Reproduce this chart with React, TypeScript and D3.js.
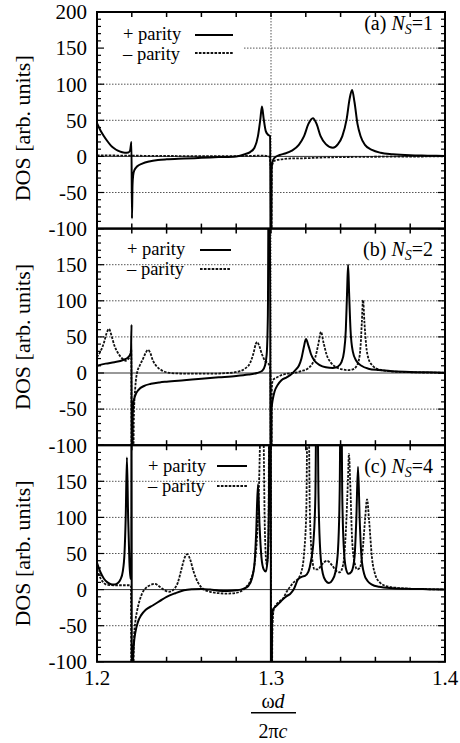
import React from 'react';
import * as d3 from 'd3';

// ---------- data ----------
const xTickValues = [1.2, 1.3, 1.4];
const xTickLabels = ['1.2', '1.3', '1.4'];
const xMinorTicks = [1.2, 1.22, 1.24, 1.26, 1.28, 1.3, 1.32, 1.34, 1.36, 1.38, 1.4];
const yTickValuesTop = [200, 150, 100, 50, 0, -50, -100];
const yTickValues = [150, 100, 50, 0, -50, -100];
const yGridValues = [150, 100, 50, -50];
const panelLetters = ['(a)', '(b)', '(c)'];
const panelNs = ['1', '2', '4'];
const legendLabels = ['+ parity', '\u2013 parity'];
const yAxisTitle = 'DOS [arb. units]';

type P = [number, number];

const aPlus: P[] = [
  [1.2, 46], [1.202, 36], [1.204, 28], [1.206, 21], [1.208, 15], [1.21, 11], [1.212, 8], [1.214, 6],
  [1.216, 5], [1.218, 5.5], [1.219, 8], [1.2198, 20], [1.2201, -86], [1.2204, -40], [1.2208, -26],
  [1.2215, -19], [1.223, -14], [1.226, -10], [1.23, -7], [1.235, -5], [1.24, -4], [1.25, -3], [1.26, -2],
  [1.27, -1], [1.28, 0], [1.285, 3], [1.288, 6], [1.2905, 12], [1.2925, 28], [1.2938, 50], [1.2948, 69],
  [1.2958, 52], [1.297, 35], [1.2983, 30], [1.2995, 28], [1.29995, -300],
  [1.30005, -300], [1.3003, -20], [1.3008, -8], [1.302, -2], [1.305, 2], [1.308, 4], [1.312, 8],
  [1.316, 16], [1.319, 28], [1.3215, 45], [1.3241, 53], [1.3262, 45], [1.3285, 28], [1.3315, 17],
  [1.3356, 12], [1.3385, 17], [1.341, 28], [1.3435, 52], [1.3452, 80], [1.3466, 92], [1.348, 75],
  [1.3497, 45], [1.3515, 28], [1.354, 16], [1.358, 9], [1.363, 5], [1.37, 3], [1.38, 1.5], [1.39, 1], [1.4, 0.5],
];
const aMinus: P[] = [
  [1.2, 1.5], [1.22, 1], [1.25, 0.5], [1.28, 0.5], [1.295, 1], [1.299, 0], [1.2999, -20], [1.29998, -300],
  [1.30002, -300], [1.3005, -14], [1.302, -6], [1.306, -4], [1.31, -3], [1.32, -2.5], [1.33, -1.5],
  [1.34, -1], [1.36, -0.5], [1.4, 0],
];

const bPlus: P[] = [
  [1.2, 10], [1.205, 13], [1.21, 15], [1.215, 18], [1.218, 22], [1.2195, 28], [1.21985, 67], [1.22, -300],
  [1.2202, -300], [1.2205, -60], [1.221, -40], [1.222, -31], [1.224, -23], [1.227, -18], [1.231, -15],
  [1.236, -13], [1.24, -12], [1.25, -10], [1.26, -8], [1.27, -6], [1.28, -4], [1.287, -2], [1.292, 0],
  [1.295, 3], [1.2965, 10], [1.2975, 25], [1.2982, 80], [1.2987, 300], [1.2993, 300], [1.29995, -300],
  [1.30005, -300], [1.3003, -50], [1.301, -37], [1.302, -26], [1.304, -16], [1.306, -10], [1.309, -6],
  [1.311, -3], [1.3125, 0], [1.314, 4], [1.316, 10], [1.3175, 20], [1.3188, 35], [1.3201, 47],
  [1.3215, 38], [1.323, 26], [1.325, 17], [1.328, 11], [1.3315, 8], [1.3356, 7], [1.3385, 9],
  [1.3405, 15], [1.342, 30], [1.343, 60], [1.3437, 110], [1.3443, 150], [1.3449, 110], [1.3457, 60],
  [1.347, 30], [1.349, 17], [1.352, 10], [1.356, 6], [1.362, 4], [1.37, 2.5], [1.38, 1.5], [1.39, 1], [1.4, 0.5],
];
const bMinus: P[] = [
  [1.2, 22], [1.202, 30], [1.204, 42], [1.2055, 55], [1.2069, 61], [1.2083, 52], [1.21, 38], [1.2125, 26],
  [1.215, 19], [1.2165, 17], [1.2178, 19], [1.219, 24], [1.2197, 33], [1.21995, -300],
  [1.2203, -300], [1.2212, -60], [1.222, -20], [1.223, 0], [1.2245, 10], [1.2265, 20], [1.228, 28],
  [1.2293, 32], [1.2306, 28], [1.232, 18], [1.234, 10], [1.237, 4], [1.24, 1], [1.245, -0.5], [1.255, -1],
  [1.265, -1], [1.275, 0], [1.281, 2], [1.285, 6], [1.288, 14], [1.29, 28], [1.2912, 40], [1.292, 43],
  [1.2932, 38], [1.2948, 26], [1.2965, 17], [1.298, 14], [1.2992, 10], [1.2997, 0], [1.29995, -300],
  [1.30005, -300], [1.3005, -20], [1.301, -10], [1.3035, -6], [1.306, -3], [1.309, -1], [1.312, 0],
  [1.315, 1], [1.318, 3], [1.321, 6], [1.3235, 12], [1.3255, 22], [1.3272, 40], [1.3287, 57],
  [1.3302, 42], [1.332, 25], [1.3345, 14], [1.3375, 8], [1.341, 5], [1.344, 4], [1.347, 5], [1.349, 9],
  [1.3505, 18], [1.3515, 38], [1.3522, 70], [1.3529, 101], [1.3537, 70], [1.3547, 38], [1.356, 20],
  [1.3585, 10], [1.362, 5], [1.368, 2.5], [1.375, 1.5], [1.385, 0.8], [1.4, 0.3],
];

const cPlus: P[] = [
  [1.2, 37], [1.202, 24], [1.204, 15], [1.206, 10], [1.208, 7.5], [1.21, 7], [1.212, 9], [1.2135, 14],
  [1.2148, 25], [1.2158, 50], [1.2165, 100], [1.2172, 183], [1.2179, 100], [1.2186, 40], [1.2192, 15],
  [1.2197, 20], [1.21985, 400], [1.22005, -400], [1.2206, -100], [1.2212, -75], [1.222, -60],
  [1.2235, -45], [1.2255, -35], [1.228, -28], [1.232, -22], [1.236, -16], [1.24, -10], [1.245, -5],
  [1.25, -1], [1.255, 0.5], [1.26, 1], [1.265, 0], [1.27, -1.5], [1.275, -2], [1.28, -1], [1.284, 1],
  [1.287, 5], [1.289, 15], [1.2905, 35], [1.2915, 80], [1.2925, 146], [1.2934, 90], [1.2945, 45],
  [1.2958, 28], [1.297, 25], [1.298, 40], [1.2988, 120], [1.2993, 400], [1.29985, 400], [1.3, -400],
  [1.30015, -400], [1.3006, -40], [1.3012, -27], [1.302, -25], [1.305, -18], [1.307, -13], [1.309, -9],
  [1.311, -6], [1.313, 0], [1.3155, 14], [1.318, 18], [1.3195, 19], [1.3215, 25], [1.323, 40],
  [1.3245, 70], [1.3255, 130], [1.3264, 350], [1.3273, 130], [1.3284, 50], [1.3298, 22], [1.3315, 12],
  [1.3333, 9], [1.3352, 13], [1.337, 24], [1.3385, 55], [1.3395, 140], [1.3402, 350], [1.3409, 140],
  [1.3418, 60], [1.343, 30], [1.3445, 22], [1.3463, 25], [1.348, 45], [1.349, 95], [1.35, 170],
  [1.351, 95], [1.352, 45], [1.3535, 22], [1.3555, 12], [1.358, 7], [1.362, 4], [1.37, 2], [1.38, 1],
  [1.39, 0.6], [1.4, 0.3],
];
const cMinus: P[] = [
  [1.2, 28], [1.202, 16], [1.204, 9], [1.206, 6.5], [1.21, 6], [1.215, 6], [1.2195, 6], [1.22, -400],
  [1.2204, -400], [1.2212, -70], [1.222, -45], [1.223, -30], [1.2245, -15], [1.226, -5], [1.228, 2],
  [1.2305, 6], [1.2333, 8], [1.236, 4], [1.239, -1], [1.2415, -3], [1.244, 0], [1.2465, 10],
  [1.2485, 28], [1.2505, 45], [1.252, 49], [1.2535, 42], [1.2555, 25], [1.258, 10], [1.261, 1],
  [1.265, -3], [1.27, -5], [1.275, -5.5], [1.28, -4.5], [1.283, -2], [1.2855, 3], [1.288, 12],
  [1.2905, 35], [1.2925, 100], [1.294, 250], [1.2948, 400], [1.2956, 250], [1.2965, 80], [1.2975, 35],
  [1.2985, 60], [1.2992, 400], [1.29985, 400], [1.30005, -400], [1.3008, -60], [1.3014, -30],
  [1.302, -25], [1.305, -16], [1.307, -12], [1.309, -3], [1.311, 4], [1.313, 10], [1.3155, 15],
  [1.3175, 25], [1.319, 50], [1.3203, 110], [1.3213, 350], [1.3223, 110], [1.3236, 45], [1.325, 28],
  [1.327, 28], [1.329, 34], [1.3322, 40], [1.335, 34], [1.3375, 26], [1.3395, 24], [1.3415, 35],
  [1.343, 80], [1.3442, 150], [1.3448, 188], [1.3455, 150], [1.3466, 70], [1.348, 38], [1.3495, 28],
  [1.351, 30], [1.3525, 50], [1.354, 95], [1.3552, 125], [1.3564, 95], [1.358, 45], [1.36, 20],
  [1.3625, 10], [1.366, 5], [1.372, 2.5], [1.38, 1.2], [1.39, 0.5], [1.4, 0.2],
];

// ---------- layout ----------
const W = 460;
const H = 743;
const L = 97;
const R = 445;
const TOP = 12;
const PH = 216.6;
const FF = 'Liberation Serif';
const FS = { fontFamily: FF };

const layouts = [
  { legendX: 123, legendY: [40, 59.5], lineX: [195, 233], lineY: [35, 53], opaque: true, labelY: 30, titleOff: 8 },
  { legendX: 127, legendY: [255, 274.5], lineX: [200, 231], lineY: [250, 269], opaque: false, labelY: 256, titleOff: 0 },
  { legendX: 148, legendY: [472, 491.5], lineX: [217, 247], lineY: [466, 486], opaque: false, labelY: 473, titleOff: 0 },
];

const seriesData = [
  [aPlus, aMinus],
  [bPlus, bMinus],
  [cPlus, cMinus],
];

const x = d3.scaleLinear().domain([1.2, 1.4]).range([L, R]);
const DASH = '2.6,1.3';

function Panel({ idx }: { idx: number }) {
  const top = TOP + idx * PH;
  const bottom = top + PH;
  const y = d3.scaleLinear().domain([-100, 200]).range([bottom, top]);
  const lay = layouts[idx];
  const [plus, minus] = seriesData[idx];
  const line = d3
    .line<P>()
    .x((d) => x(d[0]))
    .y((d) => y(d[1]))
    .curve(d3.curveMonotoneX);
  const clipId = `clip${idx}`;
  const minorY = d3.range(-100, 201, 10);
  const labels = idx === 0 ? yTickValuesTop : yTickValues;
  return (
    <g>
      <defs>
        <clipPath id={clipId}>
          <rect x={L} y={top} width={R - L} height={PH} />
        </clipPath>
      </defs>
      {yGridValues.map((v) => (
        <line key={'g' + v} x1={L} x2={R} y1={y(v)} y2={y(v)} stroke="#555" strokeWidth={1} strokeDasharray="1.5,1.5" />
      ))}
      <line x1={L} x2={R} y1={y(0)} y2={y(0)} stroke="#333" strokeWidth={1} />
      <line x1={x(1.3)} x2={x(1.3)} y1={top} y2={bottom} stroke="#555" strokeWidth={1} strokeDasharray="1.5,1.5" />
      {lay.opaque && <rect x={L + 1} y={top + 1} width={146} height={56} fill="white" />}
      <g clipPath={`url(#${clipId})`}>
        <path d={line(minus) || ''} fill="none" stroke="#111" strokeWidth={1.8} strokeDasharray={DASH} />
        <path d={line(plus) || ''} fill="none" stroke="#000" strokeWidth={2} />
      </g>
      {xMinorTicks.map((v) => (
        <g key={'xt' + v}>
          <line x1={x(v)} x2={x(v)} y1={top} y2={top + 5} stroke="#000" strokeWidth={1.5} />
          <line x1={x(v)} x2={x(v)} y1={bottom} y2={bottom - 5} stroke="#000" strokeWidth={1.5} />
        </g>
      ))}
      {minorY.map((v) => {
        const len = v % 50 === 0 ? 7 : 4;
        return (
          <g key={'yt' + v}>
            <line x1={L} x2={L + len} y1={y(v)} y2={y(v)} stroke="#000" strokeWidth={1.2} />
            <line x1={R} x2={R - len} y1={y(v)} y2={y(v)} stroke="#000" strokeWidth={1.2} />
          </g>
        );
      })}
      <rect x={L} y={top} width={R - L} height={PH} fill="none" stroke="#000" strokeWidth={2} />
      {labels.map((v) => (
        <text key={'yl' + v} x={87} y={y(v)} dy="0.35em" textAnchor="end" fontFamily={FF} style={FS} fontSize={21} fill="#000">
          {String(v)}
        </text>
      ))}
      <text
        transform={`translate(22,${(top + bottom) / 2 + lay.titleOff}) rotate(-90)`}
        textAnchor="middle"
        dy="0.35em"
        fontFamily={FF}
        style={FS}
        fontSize={22}
        fill="#000"
      >
        {yAxisTitle}
      </text>
      {legendLabels.map((t, i) => (
        <text key={'lg' + i} x={lay.legendX} y={lay.legendY[i]} fontFamily={FF} style={FS} fontSize={18.5} fill="#000">
          {t}
        </text>
      ))}
      <line x1={lay.lineX[0]} x2={lay.lineX[1]} y1={lay.lineY[0]} y2={lay.lineY[0]} stroke="#000" strokeWidth={2} />
      <line x1={lay.lineX[0]} x2={lay.lineX[1]} y1={lay.lineY[1]} y2={lay.lineY[1]} stroke="#111" strokeWidth={1.8} strokeDasharray={DASH} />
      <text x={433} y={lay.labelY} textAnchor="end" fontFamily={FF} style={FS} fontSize={20} fill="#000">
        {panelLetters[idx] + ' '}
        <tspan fontStyle="italic">N</tspan>
        <tspan fontStyle="italic" fontSize={14} dy={4}>S</tspan>
        <tspan dy={-4}>{'=' + panelNs[idx]}</tspan>
      </text>
    </g>
  );
}

export default function App() {
  const bottom = TOP + 3 * PH;
  return (
    <svg width={W} height={H} style={{ position: 'absolute', left: 0, top: 0, background: '#fff' }}>
      <rect x={0} y={0} width={W} height={H} fill="#fff" />
      {[0, 1, 2].map((i) => (
        <Panel key={i} idx={i} />
      ))}
      {xTickValues.map((v, i) => (
        <text key={'xl' + v} x={x(v)} y={bottom + 23} textAnchor="middle" fontFamily={FF} style={FS} fontSize={21} fill="#000">
          {xTickLabels[i]}
        </text>
      ))}
      <text x={273} y={bottom + 46.5} textAnchor="middle" fontFamily={FF} style={FS} fontSize={20} fill="#000">
        {'\u03C9'}
        <tspan fontStyle="italic">d</tspan>
      </text>
      <line x1={251} x2={296} y1={bottom + 51} y2={bottom + 51} stroke="#000" strokeWidth={1.5} />
      <text x={273} y={bottom + 76} textAnchor="middle" fontFamily={FF} style={FS} fontSize={20} fill="#000">
        {'2\u03C0'}
        <tspan fontStyle="italic">c</tspan>
      </text>
    </svg>
  );
}
